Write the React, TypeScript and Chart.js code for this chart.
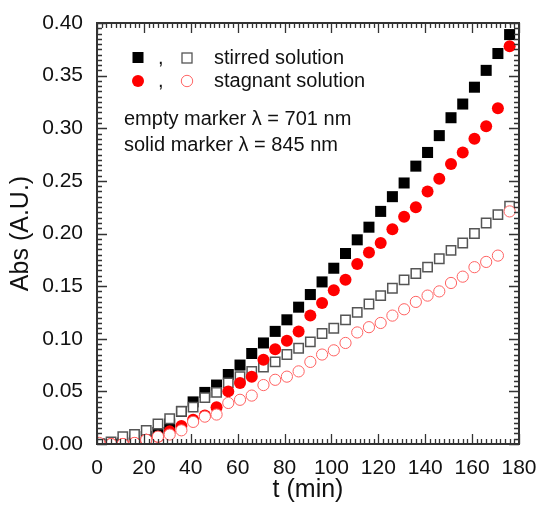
import React, { useEffect, useRef } from "react";
import { Chart, registerables } from "chart.js";

Chart.register(...registerables);

// time (min)
const timeMin = [
  1, 6, 11, 16, 21, 26, 31, 36, 41, 46, 51, 56, 61, 66, 71, 76, 81, 86,
  91, 96, 101, 106, 111, 116, 121, 126, 131, 136, 141, 146, 151, 156, 161, 166, 171, 176,
];

// stirred solution, solid marker (845 nm)
const stirred845 = [
  0.0, 0.0, 0.001, 0.003, 0.007, 0.011, 0.019, 0.031, 0.04, 0.049, 0.056, 0.066,
  0.075, 0.086, 0.096, 0.107, 0.118, 0.13, 0.142, 0.154, 0.167, 0.181, 0.194, 0.206,
  0.221, 0.235, 0.248, 0.264, 0.277, 0.293, 0.31, 0.323, 0.339, 0.355, 0.371, 0.389,
];

// stirred solution, empty marker (701 nm)
const stirred701 = [
  0.0, 0.002, 0.007, 0.009, 0.013, 0.019, 0.024, 0.031, 0.035, 0.044, 0.049, 0.058,
  0.064, 0.069, 0.073, 0.078, 0.085, 0.091, 0.097, 0.105, 0.11, 0.118, 0.125, 0.133,
  0.141, 0.148, 0.156, 0.162, 0.168, 0.176, 0.184, 0.191, 0.2, 0.21, 0.218, 0.226,
];

// stagnant solution, solid marker (845 nm)
const stagnant845 = [
  0.0, 0.0, 0.0, 0.001, 0.004, 0.007, 0.012, 0.017, 0.023, 0.027, 0.035, 0.05,
  0.058, 0.064, 0.08, 0.09, 0.098, 0.107, 0.122, 0.134, 0.146, 0.156, 0.171, 0.182,
  0.191, 0.204, 0.216, 0.225, 0.24, 0.252, 0.266, 0.277, 0.29, 0.302, 0.319, 0.378,
];

// stagnant solution, empty marker (701 nm)
const stagnant701 = [
  0.001, 0.0, 0.0, 0.001, 0.004, 0.007, 0.009, 0.013, 0.021, 0.026, 0.028, 0.039,
  0.042, 0.046, 0.056, 0.061, 0.064, 0.069, 0.078, 0.085, 0.089, 0.096, 0.106, 0.111,
  0.115, 0.122, 0.128, 0.135, 0.141, 0.145, 0.153, 0.159, 0.168, 0.173, 0.179, 0.221,
];

const xMin = 0;
const xMax = 180;
const xMajor = 20;
const xMinor = 2;
const yMin = 0;
const yMax = 0.4;
const yMajor = 0.05;
const yMinor = 0.005;

const legendLabels = ["stirred solution", "stagnant solution"];
const noteLines = ["empty marker \u03bb = 701 nm", "solid marker \u03bb = 845 nm"];

const FONT = "'Liberation Sans', Arial, Helvetica, sans-serif";

const toPoints = (ys: number[]) => timeMin.map((t, i) => ({ x: t, y: ys[i] }));

const framePlugin = {
  id: "frameTicks",
  afterDraw(chart: any) {
    const { ctx, chartArea: a, scales } = chart;
    const xs = scales.x;
    const ys = scales.y;
    ctx.save();
    ctx.strokeStyle = "#333";
    ctx.lineWidth = 1.3;
    ctx.beginPath();
    const nx = Math.round((xMax - xMin) / xMinor);
    for (let i = 0; i <= nx; i++) {
      const v = xMin + i * xMinor;
      const px = Math.round(xs.getPixelForValue(v)) + 0.5;
      const major = Math.abs(v / xMajor - Math.round(v / xMajor)) < 1e-6;
      const len = major ? 10 : 5;
      ctx.moveTo(px, a.bottom);
      ctx.lineTo(px, a.bottom - len);
      ctx.moveTo(px, a.top);
      ctx.lineTo(px, a.top + len);
    }
    const ny = Math.round((yMax - yMin) / yMinor);
    for (let i = 0; i <= ny; i++) {
      const v = yMin + i * yMinor;
      const py = Math.round(ys.getPixelForValue(v)) + 0.5;
      const major = i % Math.round(yMajor / yMinor) === 0;
      const len = major ? 10 : 5;
      ctx.moveTo(a.left, py);
      ctx.lineTo(a.left + len, py);
      ctx.moveTo(a.right, py);
      ctx.lineTo(a.right - len, py);
    }
    ctx.stroke();
    ctx.lineWidth = 2;
    ctx.strokeStyle = "#333";
    ctx.strokeRect(a.left, a.top, a.right - a.left, a.bottom - a.top);

    // legend
    ctx.fillStyle = "#000";
    ctx.fillRect(138 - 5.5, 57.5 - 5.5, 11, 11);
    ctx.fillStyle = "#fff";
    ctx.strokeStyle = "#555";
    ctx.lineWidth = 1.3;
    ctx.fillRect(187 - 5, 58 - 5, 10, 10);
    ctx.strokeRect(187 - 5, 58 - 5, 10, 10);

    ctx.fillStyle = "#ff0000";
    ctx.beginPath();
    ctx.arc(138, 81, 6, 0, Math.PI * 2);
    ctx.fill();
    ctx.strokeStyle = "#ff6666";
    ctx.lineWidth = 1;
    ctx.beginPath();
    ctx.arc(187, 81, 5.7, 0, Math.PI * 2);
    ctx.stroke();

    ctx.fillStyle = "#111";
    ctx.font = `20px ${FONT}`;
    ctx.textAlign = "left";
    ctx.textBaseline = "alphabetic";
    ctx.fillText(",", 158, 64);
    ctx.fillText(",", 158, 87);
    ctx.fillText(legendLabels[0], 214, 64);
    ctx.fillText(legendLabels[1], 214, 87);
    ctx.fillText(noteLines[0], 124, 124.5);
    ctx.fillText(noteLines[1], 124, 150.5);
    ctx.restore();
  },
};

export default function App() {
  const ref = useRef<HTMLCanvasElement | null>(null);
  useEffect(() => {
    if (!ref.current) return;
    const chart = new Chart(ref.current, {
      type: "scatter",
      data: {
        datasets: [
          {
            label: "stirred 845",
            data: toPoints(stirred845),
            pointStyle: "rect",
            pointRadius: 7.8,
            backgroundColor: "#000",
            borderColor: "#000",
            borderWidth: 0,
            order: 4,
            clip: 0,
          },
          {
            label: "stirred 701",
            data: toPoints(stirred701),
            pointStyle: "rect",
            pointRadius: 6.6,
            backgroundColor: "#fff",
            borderColor: "#555",
            borderWidth: 1.5,
            order: 3,
            clip: 0,
          },
          {
            label: "stagnant 845",
            data: toPoints(stagnant845),
            pointStyle: "circle",
            pointRadius: 6,
            backgroundColor: "#ff0000",
            borderColor: "#ff0000",
            borderWidth: 0,
            order: 2,
            clip: 0,
          },
          {
            label: "stagnant 701",
            data: toPoints(stagnant701),
            pointStyle: "circle",
            pointRadius: 5.6,
            backgroundColor: "#fff",
            borderColor: "#ff6262",
            borderWidth: 1,
            order: 1,
            clip: 0,
          },
        ] as any,
      },
      options: {
        animation: false,
        responsive: false,
        events: [],
        layout: { autoPadding: false, padding: { top: 23, right: 20, left: 0, bottom: 0 } },
        plugins: { legend: { display: false }, tooltip: { enabled: false } },
        scales: {
          x: {
            type: "linear",
            position: "bottom",
            min: xMin,
            max: xMax,
            grid: { display: false },
            border: { display: false },
            ticks: {
              stepSize: xMajor,
              color: "#111",
              padding: 4,
              maxRotation: 0,
              font: { family: FONT, size: 21 },
            },
            title: {
              display: true,
              text: "t (min)",
              color: "#111",
              font: { family: FONT, size: 25 },
              padding: { top: 0, bottom: 3 },
            },
            afterFit: (s: any) => {
              s.height = 64;
              s.paddingLeft = 0;
              s.paddingRight = 0;
            },
          },
          y: {
            type: "linear",
            min: yMin,
            max: yMax,
            grid: { display: false },
            border: { display: false },
            ticks: {
              stepSize: yMajor,
              color: "#111",
              padding: 6,
              font: { family: FONT, size: 21 },
              callback: (v: any) => Number(v).toFixed(2),
            },
            title: {
              display: true,
              text: "Abs (A.U.)",
              color: "#111",
              font: { family: FONT, size: 25 },
              padding: { top: 6, bottom: 0 },
            },
            afterFit: (s: any) => {
              s.width = 97;
              s.paddingTop = 0;
              s.paddingBottom = 0;
            },
          },
        },
      },
      plugins: [framePlugin],
    });
    return () => chart.destroy();
  }, []);
  return (
    <div style={{ position: "absolute", left: 0, top: 0, width: 539, height: 508 }}>
      <canvas ref={ref} width={539} height={508} style={{ display: "block" }} />
    </div>
  );
}
